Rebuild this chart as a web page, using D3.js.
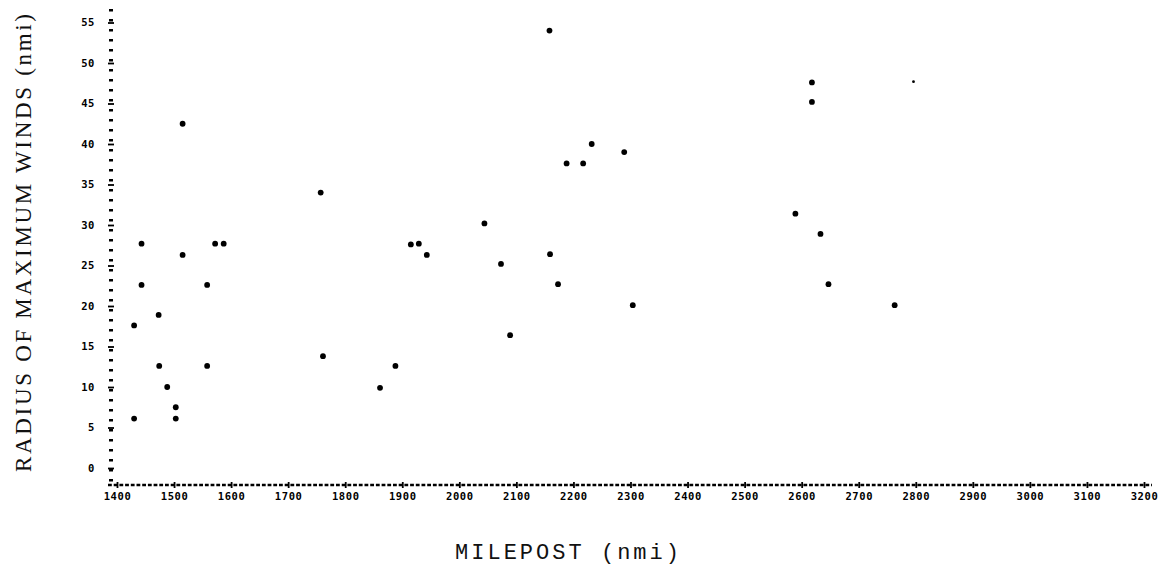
<!DOCTYPE html>
<html>
<head>
<meta charset="utf-8">
<script src="https://cdn.jsdelivr.net/npm/d3@7"></script>
<style>
  body { margin: 0; background: #fff; }
  svg { display: block; }
</style>
</head>
<body>
<script>
//Width and height
var w = 1164;
var h = 572;

//Milepost (nmi) and radius of maximum winds (nmi)
var milepost = [1430, 1430, 1443, 1443, 1473, 1474, 1488, 1503, 1503, 1515,
                1515, 1558, 1558, 1572, 1587, 1757, 1761, 1861, 1888, 1915,
                1929, 1943, 2044, 2073, 2089, 2158, 2159, 2173, 2188, 2217,
                2232, 2289, 2304, 2589, 2618, 2618, 2633, 2647, 2763];
var rmw = [17.6, 6.1, 27.7, 22.6, 18.9, 12.6, 10.0, 7.5, 6.1, 42.5,
           26.3, 22.6, 12.6, 27.7, 27.7, 34.0, 13.8, 9.9, 12.6, 27.6,
           27.7, 26.3, 30.2, 25.2, 16.4, 54.0, 26.4, 22.7, 37.6, 37.6,
           40.0, 39.0, 20.1, 31.4, 47.6, 45.2, 28.9, 22.7, 20.1];

//One faint point printed lighter
var faintMilepost = [2796];
var faintRmw = [47.7];

//Tick values
var xTicks = d3.range(1400, 3201, 100);
var yTicks = d3.range(0, 56, 5);

//Scales
var x = d3.scaleLinear().domain([1400, 3200]).range([117, 1144]);
var y = d3.scaleLinear().domain([0, 55]).range([468, 22.5]);

//Create SVG element
var svg = d3.select("body")
            .append("svg")
            .attr("width", w)
            .attr("height", h);

var axisY0 = 485;   //where the x axis sits
var axisX0 = 111;   //where the y axis sits

//Dotted y axis
svg.append("line")
   .attr("x1", axisX0).attr("x2", axisX0)
   .attr("y1", 9).attr("y2", axisY0)
   .attr("stroke", "#000")
   .attr("stroke-width", 4)
   .attr("stroke-dasharray", "2.4,7.6");

//Dotted x axis
svg.append("line")
   .attr("x1", axisX0 - 3).attr("x2", 1152)
   .attr("y1", axisY0).attr("y2", axisY0)
   .attr("stroke", "#000")
   .attr("stroke-width", 2.6)
   .attr("stroke-dasharray", "3.8,1.9");

var tickFont = "'DejaVu Sans Mono', monospace";

//X ticks and labels
var xAxis = svg.append("g")
   .attr("transform", "translate(0," + (axisY0 - 3) + ")")
   .call(d3.axisBottom(x).tickValues(xTicks).tickSize(6).tickFormat(d3.format("d")));
xAxis.select(".domain").remove();
xAxis.selectAll(".tick line").attr("stroke-width", 1.8);
xAxis.selectAll(".tick text")
     .attr("y", 11)
     .attr("font-family", tickFont)
     .attr("font-weight", "bold")
     .attr("font-size", "10.5px")
     .attr("letter-spacing", "0.6px")
     .attr("fill", "#000");

//Y ticks and labels
var yAxis = svg.append("g")
   .attr("transform", "translate(" + (axisX0 + 3) + ",0)")
   .call(d3.axisLeft(y).tickValues(yTicks).tickSize(6).tickFormat(d3.format("d")));
yAxis.select(".domain").remove();
yAxis.selectAll(".tick line").attr("stroke-width", 1.8);
yAxis.selectAll(".tick text")
     .attr("x", -19)
     .attr("font-family", tickFont)
     .attr("font-weight", "bold")
     .attr("font-size", "10.5px")
     .attr("letter-spacing", "0.6px")
     .attr("fill", "#000");

//Data points
var points = d3.zip(milepost, rmw);
svg.selectAll("circle.pt")
   .data(points)
   .enter()
   .append("circle")
   .attr("class", "pt")
   .attr("cx", (d) => { return x(d[0]); })
   .attr("cy", (d) => { return y(d[1]); })
   .attr("r", 2.9)
   .attr("fill", "#000");

svg.selectAll("circle.faint")
   .data(d3.zip(faintMilepost, faintRmw))
   .enter()
   .append("circle")
   .attr("class", "faint")
   .attr("cx", (d) => { return x(d[0]); })
   .attr("cy", (d) => { return y(d[1]); })
   .attr("r", 1.4)
   .attr("fill", "#000");

//Axis titles
svg.append("text")
   .attr("x", 567)
   .attr("y", 559)
   .attr("text-anchor", "middle")
   .attr("font-family", "'Liberation Mono', monospace")
   .attr("font-size", "22px")
   .attr("textLength", 224)
   .attr("lengthAdjust", "spacing")
   .attr("fill", "#111")
   .text("MILEPOST (nmi)");

svg.append("text")
   .attr("transform", "translate(31,243) rotate(-90)")
   .attr("text-anchor", "middle")
   .attr("font-family", "'Liberation Serif', serif")
   .attr("font-size", "23px")
   .attr("textLength", 458)
   .attr("lengthAdjust", "spacing")
   .attr("fill", "#111")
   .text("RADIUS OF MAXIMUM WINDS (nmi)");
</script>
</body>
</html>
